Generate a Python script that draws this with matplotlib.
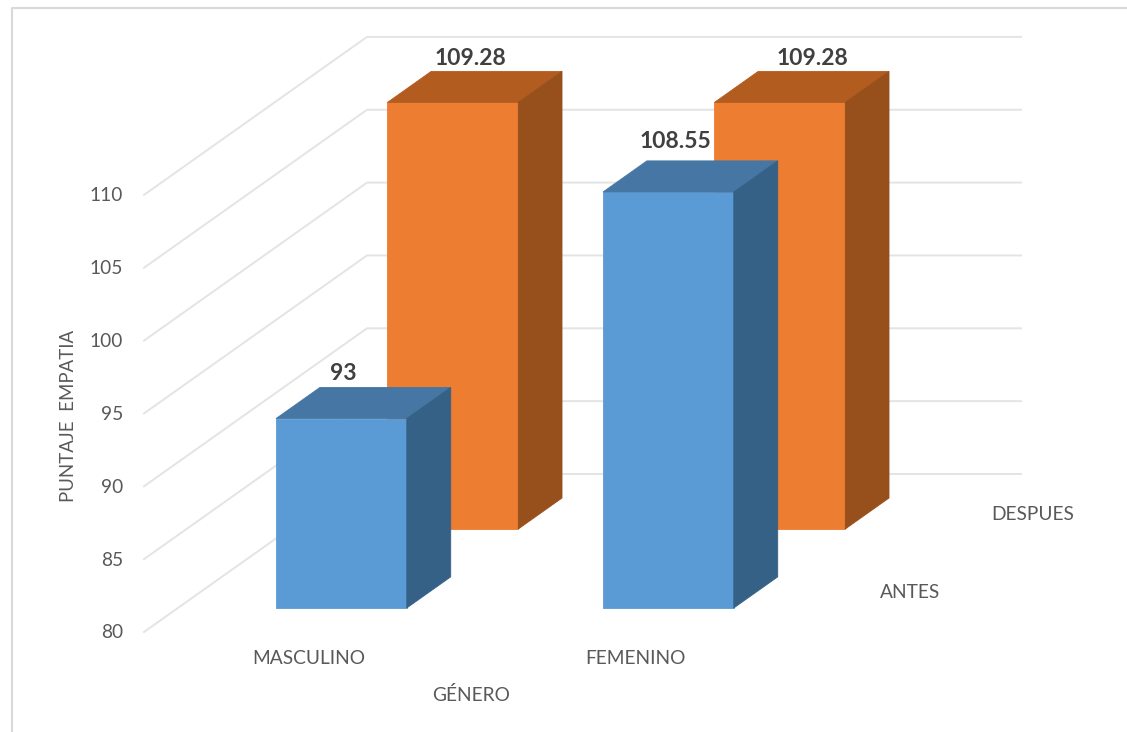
import matplotlib
matplotlib.use("Agg")
import matplotlib.pyplot as plt
from matplotlib.patches import Polygon

# Chart data
categories = ["MASCULINO", "FEMENINO"]
series_names = ["ANTES", "DESPUES"]
antes_values = [93, 108.55]
despues_values = [109.28, 109.28]
value_ticks = [80, 85, 90, 95, 100, 105, 110]
antes_labels = ["93", "108.55"]
despues_labels = ["109.28", "109.28"]

# Oblique projection of the 3D plot box onto figure pixels
ORIGIN_X, ORIGIN_Y = 144.0, 632.0
DEPTH_DX, DEPTH_DY = 223.0, -158.0
CATEGORY_W = 327.0
UNIT_H = 14.57
BASE_VALUE = 80.0
BAR_W = 0.40
ROW_SPANS = [(0.152, 0.349), (0.652, 0.848)]

# Label nudges from the centre of each bar's rear top edge, in pixels
ANTES_NUDGE = [(-42, -14), (-37, -19)]
DESPUES_NUDGE = [(-26, -13), (-11, -13)]


def project(cat, depth, value):
    """Map (category position, depth 0-1, value) to pixel coordinates."""
    px = ORIGIN_X + cat * CATEGORY_W + depth * DEPTH_DX
    py = ORIGIN_Y - (value - BASE_VALUE) * UNIT_H + depth * DEPTH_DY
    return px, py


plt.rcParams["font.family"] = ["Lato", "DejaVu Sans"]
GREY = "#595959"
GRID = "#E4E4E4"
BORDER = "#D9D9D9"
AXIS_FONT = 13.8
LABEL_FONT = 16.5

fig = plt.figure(figsize=(11.27, 7.32), dpi=100)
ax = fig.add_axes([0, 0, 1, 1])
ax.set_xlim(0, 1127)
ax.set_ylim(732, 0)
ax.axis("off")

# Chart area border: only the left and top edges fall inside the canvas
ax.plot([12, 12, 1127], [732, 8, 8], color=BORDER, lw=1.5, zorder=1)

# Gridlines run along the side wall and then across the back wall
for tick in value_ticks:
    pts = [project(0, 0, tick), project(0, 1, tick), project(2, 1, tick)]
    ax.plot([p[0] for p in pts], [p[1] for p in pts], color=GRID, lw=1.4,
            solid_joinstyle="miter", zorder=2)
    x0, y0 = project(0, 0, tick)
    ax.text(x0 - 21, y0 + 1, str(tick), ha="right", va="center",
            fontsize=AXIS_FONT, color=GREY, zorder=6)


def draw_bar(cat_index, span, value, front, top, side, z):
    c0 = cat_index + 0.5 - BAR_W / 2
    c1 = cat_index + 0.5 + BAR_W / 2
    d0, d1 = span
    faces = [
        ([(c0, d0, BASE_VALUE), (c1, d0, BASE_VALUE), (c1, d0, value), (c0, d0, value)], front),
        ([(c0, d0, value), (c1, d0, value), (c1, d1, value), (c0, d1, value)], top),
        ([(c1, d0, BASE_VALUE), (c1, d1, BASE_VALUE), (c1, d1, value), (c1, d0, value)], side),
    ]
    for corners, color in faces:
        ax.add_patch(Polygon([project(*c) for c in corners], closed=True,
                             facecolor=color, edgecolor=color, lw=0.6, zorder=z))


ORANGE = ("#ED7D31", "#B25C20", "#974F1C")
BLUE = ("#5B9BD5", "#4676A3", "#366187")

# Back row first so the front row overlaps it
for i, v in enumerate(despues_values):
    draw_bar(i, ROW_SPANS[1], v, *ORANGE, z=3)
for i, v in enumerate(antes_values):
    draw_bar(i, ROW_SPANS[0], v, *BLUE, z=4)

# Value labels sit just above each bar's top face
for i, (v, label) in enumerate(zip(despues_values, despues_labels)):
    x, y = project(i + 0.5, ROW_SPANS[1][1], v)
    ax.text(x + DESPUES_NUDGE[i][0], y + DESPUES_NUDGE[i][1], label, ha="center", va="center",
            fontsize=LABEL_FONT, fontweight="bold", color="#404040", zorder=7)
for i, (v, label) in enumerate(zip(antes_values, antes_labels)):
    x, y = project(i + 0.5, ROW_SPANS[0][1], v)
    ax.text(x + ANTES_NUDGE[i][0], y + ANTES_NUDGE[i][1], label, ha="center", va="center",
            fontsize=LABEL_FONT, fontweight="bold", color="#404040", zorder=7)

# Category, series and axis titles
for i, name in enumerate(categories):
    ax.text(project(i + 0.5, 0, BASE_VALUE)[0] + 1, 659, name, ha="center",
            va="center", fontsize=AXIS_FONT, color=GREY)
ax.text(910, 593, series_names[0], ha="center", va="center", fontsize=AXIS_FONT, color=GREY)
ax.text(1033, 514, series_names[1], ha="center", va="center", fontsize=AXIS_FONT, color=GREY)
ax.text(471, 695, "GÉNERO", ha="center", va="center", fontsize=AXIS_FONT, color=GREY)
ax.text(68, 416, "PUNTAJE  EMPATIA", ha="center", va="center", rotation=90,
        fontsize=AXIS_FONT - 0.4, color=GREY)

fig.savefig("out.png", dpi=100, facecolor="white")
